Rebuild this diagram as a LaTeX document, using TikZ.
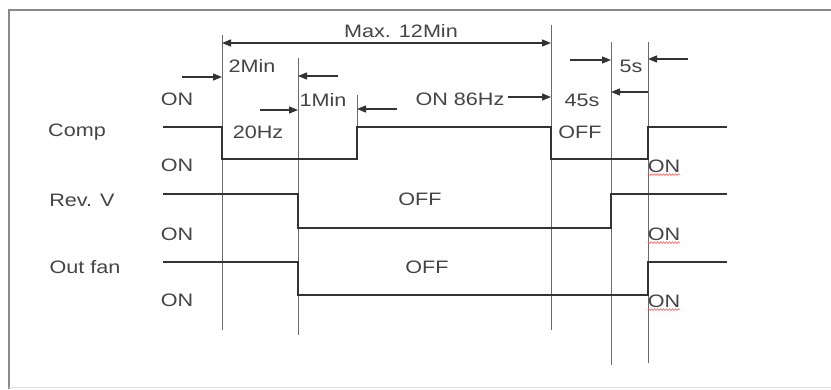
\documentclass[tikz,border=0pt]{standalone}
\usepackage{fontspec}
\setmainfont{Liberation Sans}[FakeStretch=1.2]
\usetikzlibrary{arrows.meta,decorations.pathmorphing}
\definecolor{txt}{HTML}{444444}
\definecolor{sig}{HTML}{333333}
\definecolor{guide}{HTML}{6A6A6A}
\definecolor{frm}{HTML}{8A8A8A}
\begin{document}
\begin{tikzpicture}[x=1pt,y=-1pt,
  lbl/.style={text=txt,font=\fontsize{18}{18}\selectfont,inner sep=0pt,anchor=center},
  signal/.style={draw=sig,line width=1.6pt,line join=miter},
  guideline/.style={draw=guide,line width=1pt},
  dimarrow/.style={draw=sig,line width=1.3pt,-{Triangle[length=9pt,width=7pt]}},
  dimboth/.style={draw=sig,line width=1.3pt,{Triangle[length=9pt,width=7pt]}-{Triangle[length=9pt,width=7pt]}},
  squiggle/.style={draw=red!65,line width=0.6pt,decorate,decoration={snake,segment length=3pt,amplitude=0.9pt}}]
\useasboundingbox (0,0) rectangle (831,389);
\fill[white] (0,0) rectangle (831,389);
% frame
\coordinate (fTL) at (9,10);
\coordinate (fTR) at (831,10);
\coordinate (fBL) at (9,389);
\draw[frm,line width=2.6pt] (fTR) -- (fTL) -- (fBL);
\draw[black!12,line width=1pt] (9,387) -- (831,387);
% guide lines
\coordinate (v1t) at (222,35);  \coordinate (v1b) at (222,330);
\coordinate (v2t) at (298,58);  \coordinate (v2b) at (298,335);
\coordinate (v3t) at (551,25);  \coordinate (v3b) at (551,330);
\coordinate (v4t) at (611,42);  \coordinate (v4b) at (611,365);
\coordinate (v5t) at (648,42);  \coordinate (v5b) at (648,363);
\coordinate (kt) at (357,95);   \coordinate (kb) at (357,159);
\draw[guideline] (v1t) -- (v1b);
\draw[guideline] (v2t) -- (v2b);
\draw[guideline] (v3t) -- (v3b);
\draw[guideline] (v4t) -- (v4b);
\draw[guideline] (v5t) -- (v5b);
\draw[guideline] (kt) -- (kb);
% signals
\draw[signal] (163,127) -- (222,127) -- (222,159) -- (357,159) -- (357,127) -- (551,127) -- (551,159) -- (648,159) -- (648,127) -- (727,127);
\draw[signal] (163,194) -- (298,194) -- (298,228) -- (611,228) -- (611,194) -- (727,194);
\draw[signal] (163,262) -- (298,262) -- (298,295) -- (648,295) -- (648,262) -- (727,262);
% dimension arrows
\coordinate (m1) at (222,43); \coordinate (m2) at (551,43);
\draw[dimboth] (m1) -- (m2);
\coordinate (a1s) at (182,77); \coordinate (a1e) at (222,77);
\draw[dimarrow] (a1s) -- (a1e);
\coordinate (a2s) at (338,76); \coordinate (a2e) at (298,76);
\draw[dimarrow] (a2s) -- (a2e);
\coordinate (b1s) at (260,110); \coordinate (b1e) at (298,110);
\draw[dimarrow] (b1s) -- (b1e);
\coordinate (b2s) at (397,109); \coordinate (b2e) at (357,109);
\draw[dimarrow] (b2s) -- (b2e);
\coordinate (c1s) at (508,97); \coordinate (c1e) at (551,97);
\draw[dimarrow] (c1s) -- (c1e);
\coordinate (d1s) at (648,92); \coordinate (d1e) at (611,92);
\draw[dimarrow] (d1s) -- (d1e);
\coordinate (e1s) at (570,60); \coordinate (e1e) at (611,60);
\draw[dimarrow] (e1s) -- (e1e);
\coordinate (e2s) at (688,59); \coordinate (e2e) at (648,59);
\draw[dimarrow] (e2s) -- (e2e);
% labels
\node[lbl] (max) at (401,31) {Max. 12Min};
\node[lbl] (t2) at (252,66) {2Min};
\node[lbl] (t1) at (323,100) {1Min};
\node[lbl] (hz20) at (258,132) {20Hz};
\node[lbl] (hz86) at (460,99) {ON 86Hz};
\node[lbl] (s45) at (582,100) {45s};
\node[lbl] (s5) at (631,66) {5s};
\node[lbl] (offc) at (580,132) {OFF};
\node[lbl] (offr) at (420,199) {OFF};
\node[lbl] (offo) at (427,267) {OFF};
\node[lbl] (comp) at (77,132) {Comp};
\node[lbl] (rev) at (82,200) {Rev. V};
\node[lbl] (out) at (85,267) {Out fan};
\node[lbl] (onc1) at (177,99) {ON};
\node[lbl] (onc2) at (177,165) {ON};
\node[lbl] (onr) at (177,234) {ON};
\node[lbl] (ono) at (177,300) {ON};
\node[lbl] (onc3) at (664,166) {ON};
\node[lbl] (onr2) at (664,234) {ON};
\node[lbl] (ono2) at (664,301) {ON};
\draw[squiggle] (onc3.south west) ++(0,2) -- ++(32,0);
\draw[squiggle] (onr2.south west) ++(0,2) -- ++(32,0);
\draw[squiggle] (ono2.south west) ++(0,2) -- ++(32,0);
\end{tikzpicture}
\end{document}
